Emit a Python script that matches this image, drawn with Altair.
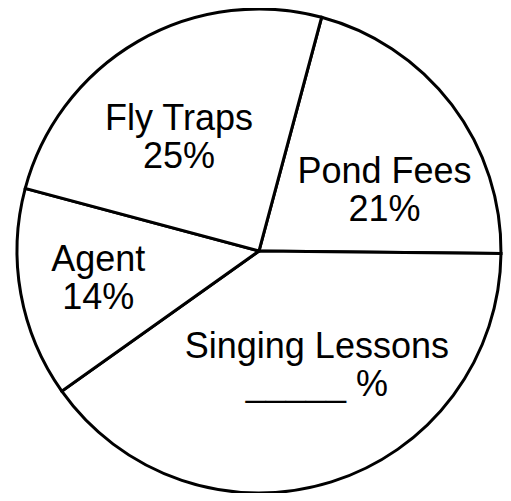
import math
import altair as alt
import pandas as pd

# ---- data ----
categories = ["Pond Fees", "Singing Lessons", "Agent", "Fly Traps"]
values = [21, 40, 14, 25]
label_lines = [["Pond Fees", "21%"],
               ["Singing Lessons", "_____ %"],
               ["Agent", "14%"],
               ["Fly Traps", "25%"]]
slice_order = [0, 1, 2, 3]

# ---- styling ----
START = math.radians(15)
CX, CY = 251, 243
R = 242
LABEL_R = 140
label_offsets = {
    "Pond Fees": (14, 6),
    "Singing Lessons": (16, -38),
    "Agent": (-23, -16),
    "Fly Traps": (-10, -11),
}

df = pd.DataFrame({
    "category": categories,
    "value": values,
    "label": label_lines,
    "order": slice_order,
})

pie = alt.Chart(df).mark_arc(
    outerRadius=R, fill="white", stroke="black", strokeWidth=3
).encode(
    theta=alt.Theta("value:Q", stack=True,
                    scale=alt.Scale(range=[START, START + 2 * math.pi])),
    order=alt.Order("order:Q"),
    x=alt.value(CX),
    y=alt.value(CY),
)

base = alt.Chart(df).transform_joinaggregate(
    total="sum(value)"
).transform_window(
    cum="sum(value)", sort=[alt.SortField("order")], frame=[None, 0]
).transform_calculate(
    mid=f"{START} + 2*PI*(datum.cum - datum.value/2)/datum.total"
)

layers = [pie]
for cat in categories:
    dx, dy = label_offsets[cat]
    layers.append(
        base.transform_filter(alt.datum.category == cat).mark_text(
            font="Liberation Sans", fontSize=36, lineHeight=38,
            radius=LABEL_R, dx=dx, dy=dy, align="center", baseline="middle",
            color="black",
        ).encode(
            theta=alt.Theta("mid:Q", scale=None),
            text="label",
            x=alt.value(CX),
            y=alt.value(CY),
        )
    )

chart = alt.layer(*layers).resolve_scale(theta="independent").properties(
    width=495, height=485,
    autosize=alt.AutoSizeParams(type="none"),
    padding=0,
).configure_view(stroke=None)

chart.save("out.html", embed_options={"renderer": "svg", "actions": False})
